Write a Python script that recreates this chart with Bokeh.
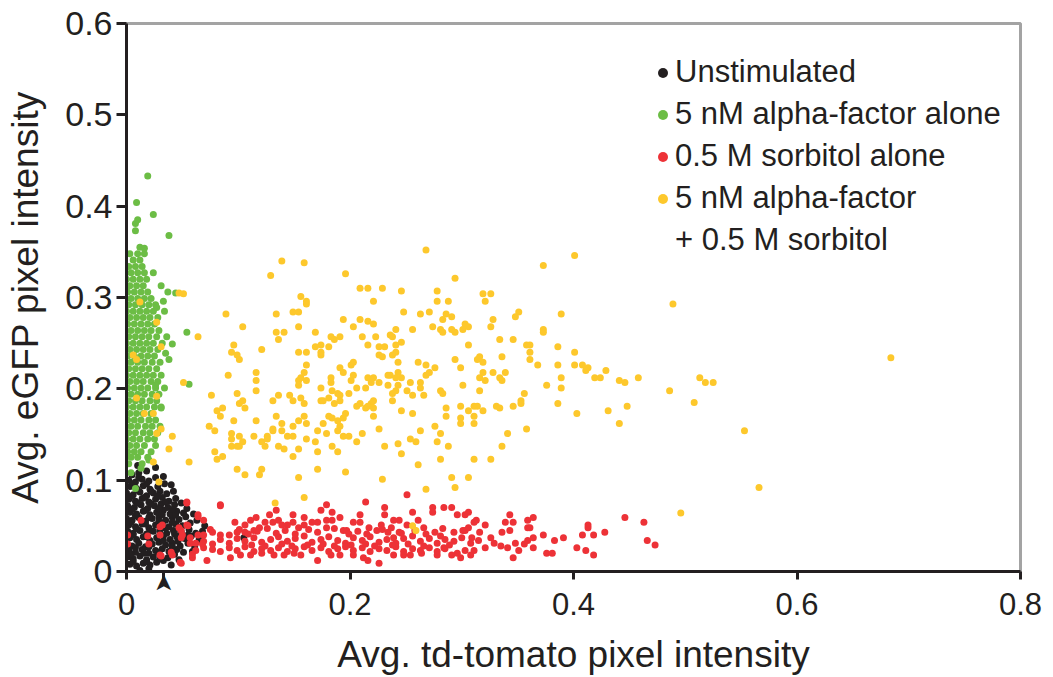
from bokeh.plotting import figure
from bokeh.models import Legend, LegendItem, LinearAxis, FixedTicker
from bokeh.embed import file_html
from bokeh.resources import INLINE
import math

# ---------------- data ----------------
x_ticks = [0, 0.2, 0.4, 0.6, 0.8]
y_ticks = [0, 0.1, 0.2, 0.3, 0.4, 0.5, 0.6]
x_tick_labels = ["0", "0.2", "0.4", "0.6", "0.8"]
y_tick_labels = ["0", "0.1", "0.2", "0.3", "0.4", "0.5", "0.6"]

series_names = ["Unstimulated", "5 nM alpha-factor alone", "0.5 M sorbitol alone",
                "5 nM alpha-factor"]
legend_extra_line = "+ 0.5 M sorbitol"
series_colors = ["#231f20", "#6cbd45", "#ed3237", "#fdc82c"]

arrow_x = 0.033  # arrowhead marker under the x axis

unstim_pts = [
    (0.003,0.008),(0.009,0.006),(0.015,0.009),(0.021,0.007),(0.027,0.010),(0.033,0.012),
    (0.001,0.016),(0.006,0.014),(0.012,0.017),(0.018,0.013),(0.024,0.016),(0.030,0.018),(0.037,0.015),(0.043,0.019),
    (0.002,0.023),(0.008,0.021),(0.014,0.024),(0.020,0.020),(0.026,0.023),(0.032,0.025),(0.038,0.022),(0.045,0.024),(0.051,0.021),
    (0.000,0.030),(0.005,0.028),(0.011,0.031),(0.017,0.027),(0.023,0.030),(0.029,0.032),(0.035,0.029),(0.041,0.031),(0.048,0.028),(0.055,0.031),(0.061,0.027),
    (0.003,0.037),(0.009,0.035),(0.015,0.038),(0.021,0.034),(0.027,0.037),(0.033,0.039),(0.039,0.035),(0.045,0.038),(0.052,0.036),(0.058,0.039),(0.065,0.035),
    (0.001,0.044),(0.006,0.042),(0.012,0.045),(0.018,0.041),(0.024,0.044),(0.030,0.046),(0.036,0.042),(0.042,0.045),(0.049,0.043),(0.056,0.046),(0.062,0.042),
    (0.002,0.051),(0.008,0.049),(0.014,0.052),(0.020,0.048),(0.026,0.051),(0.032,0.053),(0.038,0.049),(0.044,0.052),(0.050,0.050),(0.057,0.053),
    (0.000,0.058),(0.005,0.056),(0.011,0.059),(0.017,0.055),(0.023,0.058),(0.029,0.060),(0.035,0.056),(0.041,0.059),(0.047,0.057),(0.053,0.060),
    (0.003,0.065),(0.009,0.063),(0.015,0.066),(0.021,0.062),(0.027,0.065),(0.033,0.067),(0.039,0.063),(0.045,0.066),(0.051,0.064),
    (0.001,0.072),(0.007,0.070),(0.013,0.073),(0.019,0.069),(0.025,0.072),(0.031,0.074),(0.037,0.070),(0.043,0.073),(0.049,0.075),
    (0.002,0.079),(0.008,0.077),(0.014,0.080),(0.020,0.076),(0.026,0.079),(0.032,0.081),(0.038,0.077),(0.044,0.080),
    (0.000,0.086),(0.006,0.084),(0.012,0.087),(0.018,0.083),(0.024,0.086),(0.030,0.088),(0.036,0.085),
    (0.003,0.093),(0.009,0.091),(0.015,0.094),(0.021,0.090),(0.028,0.093),(0.034,0.096),
    (0.002,0.100),(0.008,0.098),(0.014,0.101),(0.020,0.099),(0.026,0.103),
    (0.005,0.106),(0.011,0.108),(0.018,0.110),
    (0.006,0.011),(0.018,0.011),(0.030,0.014),(0.004,0.019),(0.016,0.020),(0.028,0.021),(0.041,0.027),
    (0.008,0.026),(0.020,0.027),(0.033,0.034),(0.046,0.033),(0.006,0.040),(0.018,0.038),(0.030,0.041),
    (0.043,0.041),(0.055,0.040),(0.009,0.047),(0.021,0.045),(0.034,0.048),(0.047,0.047),(0.004,0.054),
    (0.017,0.052),(0.029,0.055),(0.041,0.054),(0.008,0.061),(0.020,0.059),(0.032,0.062),(0.044,0.062),
    (0.005,0.068),(0.017,0.067),(0.029,0.069),(0.041,0.068),(0.010,0.075),(0.022,0.074),(0.035,0.076),
    (0.004,0.082),(0.016,0.081),(0.028,0.083),(0.010,0.089),(0.022,0.088),(0.006,0.096),(0.018,0.096),
    (0.011,0.103),
    (0.012,0.001),(0.105,0.037),(0.068,0.044),(0.070,0.050),(0.060,0.063),(0.054,0.069),(0.042,0.088),
    (0.026,0.114),(0.010,0.116),(0.033,0.104),(0.040,0.095),(0.063,0.056),(0.059,0.022),(0.047,0.013),
    (0.020,0.003),(0.040,0.007),
]

alpha_pts = [
    (0.002,0.118),(0.014,0.118),
    (0.004,0.125),(0.010,0.125),(0.019,0.125),
    (0.001,0.131),(0.007,0.131),(0.013,0.131),(0.022,0.131),
    (0.003,0.138),(0.009,0.138),(0.016,0.138),(0.026,0.138),
    (0.000,0.145),(0.006,0.145),(0.012,0.145),(0.019,0.145),(0.025,0.145),
    (0.002,0.152),(0.008,0.152),(0.015,0.152),(0.021,0.152),(0.028,0.152),
    (0.004,0.159),(0.010,0.159),(0.017,0.159),(0.023,0.159),(0.030,0.159),
    (0.001,0.166),(0.007,0.166),(0.013,0.166),(0.020,0.166),(0.026,0.166),
    (0.003,0.173),(0.009,0.173),(0.015,0.173),(0.022,0.173),
    (0.000,0.180),(0.006,0.180),(0.012,0.180),(0.018,0.180),(0.025,0.180),(0.031,0.180),
    (0.002,0.187),(0.008,0.187),(0.014,0.187),(0.021,0.187),(0.027,0.187),
    (0.004,0.194),(0.010,0.194),(0.016,0.194),(0.023,0.194),(0.029,0.194),
    (0.001,0.201),(0.007,0.201),(0.013,0.201),(0.019,0.201),(0.026,0.201),(0.034,0.201),
    (0.003,0.208),(0.009,0.208),(0.015,0.208),(0.022,0.208),(0.028,0.208),
    (0.000,0.215),(0.006,0.215),(0.012,0.215),(0.018,0.215),(0.024,0.215),(0.031,0.215),
    (0.002,0.222),(0.008,0.222),(0.014,0.222),(0.020,0.222),(0.027,0.222),
    (0.004,0.229),(0.010,0.229),(0.016,0.229),(0.023,0.229),(0.030,0.229),
    (0.001,0.236),(0.007,0.236),(0.013,0.236),(0.019,0.236),(0.025,0.236),
    (0.003,0.243),(0.009,0.243),(0.015,0.243),(0.021,0.243),(0.028,0.243),
    (0.000,0.250),(0.006,0.250),(0.012,0.250),(0.018,0.250),(0.024,0.250),(0.032,0.250),
    (0.002,0.257),(0.008,0.257),(0.014,0.257),(0.020,0.257),(0.027,0.257),
    (0.004,0.264),(0.010,0.264),(0.016,0.264),(0.022,0.264),(0.029,0.264),
    (0.001,0.271),(0.007,0.271),(0.013,0.271),(0.019,0.271),(0.025,0.271),
    (0.003,0.278),(0.009,0.278),(0.015,0.278),(0.021,0.278),(0.028,0.278),
    (0.000,0.285),(0.006,0.285),(0.012,0.285),(0.018,0.285),(0.024,0.285),(0.034,0.285),
    (0.002,0.292),(0.008,0.292),(0.014,0.292),(0.020,0.292),(0.026,0.292),
    (0.004,0.299),(0.010,0.299),(0.016,0.299),(0.022,0.299),
    (0.001,0.306),(0.007,0.306),(0.013,0.306),(0.019,0.306),(0.037,0.306),
    (0.003,0.313),(0.009,0.313),(0.015,0.313),(0.031,0.313),
    (0.000,0.320),(0.006,0.320),(0.012,0.320),(0.018,0.320),
    (0.004,0.327),(0.010,0.327),(0.016,0.327),(0.024,0.327),
    (0.002,0.334),(0.008,0.334),(0.014,0.334),
    (0.006,0.341),(0.012,0.341),
    (0.003,0.348),(0.010,0.348),(0.016,0.348),
    (0.012,0.355),
    (0.019,0.433),(0.009,0.404),(0.024,0.391),(0.010,0.385),(0.008,0.381),(0.008,0.373),(0.038,0.368),
    (0.016,0.354),(0.044,0.305),(0.054,0.262),(0.036,0.257),(0.041,0.249),(0.035,0.239),(0.038,0.232),
    (0.056,0.205),(0.031,0.179),(0.026,0.204),(0.013,0.113),(0.020,0.122),(0.008,0.091),(0.004,0.108),
    (0.027,0.289),(0.033,0.296),
]

sorbitol_pts = [
    (0.054,0.076),(0.084,0.073),(0.179,0.073),(0.214,0.076),(0.251,0.084),(0.231,0.070),(0.274,0.070),
    (0.284,0.070),(0.291,0.070),(0.134,0.067),(0.174,0.067),(0.184,0.065),(0.064,0.062),(0.069,0.056),
    (0.149,0.062),(0.159,0.059),(0.128,0.062),(0.116,0.059),(0.111,0.056),(0.106,0.051),(0.097,0.054),
    (0.231,0.062),(0.209,0.062),(0.256,0.065),(0.274,0.065),(0.296,0.062),(0.303,0.062),(0.306,0.065),
    (0.343,0.062),(0.364,0.059),(0.359,0.056),(0.446,0.059),(0.463,0.054),(0.413,0.051),(0.428,0.043),
    (0.408,0.040),(0.418,0.040),(0.413,0.048),(0.373,0.040),(0.383,0.034),(0.391,0.037),(0.466,0.034),
    (0.473,0.029),(0.403,0.026),(0.411,0.023),(0.418,0.018),(0.376,0.020),(0.381,0.020),(0.346,0.015),
    (0.351,0.023),(0.359,0.034),(0.364,0.037),(0.359,0.048),(0.361,0.048),(0.339,0.054),(0.346,0.054),
    (0.343,0.045),(0.336,0.043),(0.321,0.051),(0.313,0.056),(0.311,0.054),(0.303,0.045),(0.301,0.045),
    (0.316,0.043),(0.309,0.037),(0.326,0.037),(0.329,0.031),(0.335,0.028),(0.341,0.026),(0.348,0.031),
    (0.356,0.030),(0.364,0.026),(0.321,0.026),(0.311,0.023),(0.303,0.023),(0.296,0.020),(0.291,0.018),
    (0.284,0.026),(0.281,0.039),(0.276,0.043),(0.266,0.048),(0.261,0.056),(0.251,0.051),(0.244,0.056),
    (0.239,0.056),(0.244,0.043),(0.239,0.037),(0.234,0.043),(0.228,0.051),(0.224,0.045),(0.217,0.048),
    (0.209,0.054),(0.203,0.054),(0.197,0.045),(0.194,0.045),(0.191,0.059),(0.184,0.056),(0.179,0.056),
    (0.179,0.048),(0.171,0.054),(0.166,0.054),(0.159,0.051),(0.154,0.048),(0.149,0.054),(0.144,0.051),
    (0.139,0.051),(0.136,0.056),(0.131,0.054),(0.124,0.054),(0.119,0.048),(0.114,0.045),(0.106,0.043),
    (0.099,0.043),(0.092,0.040),(0.084,0.040),(0.077,0.043),(0.069,0.040),(0.064,0.040),(0.057,0.037),
    (0.049,0.045),(0.049,0.037),(0.054,0.051),(0.057,0.031),(0.062,0.031),
    (0.069,0.033),(0.077,0.030),(0.084,0.035),(0.092,0.031),(0.099,0.036),(0.106,0.033),(0.114,0.037),
    (0.121,0.032),(0.129,0.035),(0.136,0.038),(0.144,0.033),(0.151,0.036),(0.159,0.039),(0.166,0.032),
    (0.174,0.035),(0.181,0.038),(0.189,0.034),(0.196,0.031),(0.203,0.037),(0.211,0.034),(0.218,0.038),
    (0.226,0.032),(0.233,0.035),(0.241,0.031),(0.248,0.036),(0.256,0.039),(0.263,0.033),(0.271,0.036),
    (0.278,0.031),(0.285,0.035),(0.293,0.033),(0.300,0.037),(0.308,0.031),(0.315,0.034),
    (0.062,0.023),(0.069,0.026),(0.077,0.024),(0.084,0.022),(0.092,0.026),(0.099,0.023),(0.106,0.027),
    (0.114,0.022),(0.121,0.025),(0.129,0.023),(0.136,0.026),(0.144,0.022),(0.151,0.025),(0.159,0.027),
    (0.166,0.023),(0.174,0.026),(0.181,0.022),(0.189,0.025),(0.196,0.027),(0.203,0.023),(0.211,0.026),
    (0.218,0.022),(0.226,0.025),(0.233,0.023),(0.241,0.027),(0.248,0.022),(0.256,0.025),(0.263,0.023),
    (0.271,0.026),(0.278,0.022),(0.285,0.025),
    (0.101,0.046),(0.109,0.041),(0.117,0.044),(0.126,0.047),(0.134,0.042),(0.142,0.045),(0.151,0.041),
    (0.163,0.046),(0.171,0.043),(0.186,0.047),(0.199,0.041),(0.207,0.044),(0.215,0.041),(0.229,0.046),
    (0.237,0.048),(0.246,0.042),(0.258,0.045),(0.268,0.041),(0.283,0.047),(0.293,0.043),(0.306,0.048),
    (0.112,0.029),(0.124,0.028),(0.139,0.030),(0.148,0.028),(0.162,0.029),(0.176,0.030),(0.186,0.028),
    (0.201,0.029),(0.214,0.030),(0.222,0.028),(0.238,0.029),(0.252,0.030),(0.266,0.028),(0.289,0.029),
    (0.030,0.018),(0.041,0.018),(0.049,0.009),(0.059,0.015),(0.072,0.012),(0.093,0.015),(0.102,0.018),
    (0.111,0.018),(0.121,0.020),(0.132,0.018),(0.141,0.018),(0.150,0.020),(0.156,0.018),(0.171,0.012),
    (0.183,0.018),(0.191,0.018),(0.203,0.018),(0.212,0.015),(0.216,0.012),(0.226,0.009),(0.239,0.018),
    (0.248,0.018),(0.254,0.018),(0.264,0.020),(0.278,0.018),(0.299,0.015),(0.308,0.018),
    (0.013,0.056),(0.001,0.040),(0.001,0.030),(0.019,0.039),(0.020,0.030),(0.030,0.049),(0.030,0.040),
    (0.032,0.051),(0.047,0.048),(0.055,0.050),(0.050,0.040),(0.064,0.060),(0.054,0.075),(0.031,0.017),
    (0.040,0.021),(0.048,0.010),(0.059,0.019),(0.084,0.072),(0.075,0.046),(0.068,0.030),
]

combo_pts = [
    (0.268,0.352),(0.401,0.346),(0.139,0.340),(0.159,0.338),(0.373,0.335),(0.129,0.324),(0.196,0.326),(0.294,0.321),
    (0.209,0.310),(0.216,0.310),(0.229,0.310),(0.246,0.307),(0.278,0.307),(0.319,0.304),(0.326,0.304),(0.051,0.304),
    (0.156,0.301),(0.161,0.296),(0.161,0.293),(0.221,0.296),(0.278,0.296),(0.288,0.296),(0.321,0.296),
    (0.089,0.282),(0.134,0.282),(0.149,0.284),(0.154,0.284),(0.248,0.284),(0.263,0.282),(0.271,0.284),(0.286,0.282),
    (0.291,0.279),(0.351,0.284),(0.348,0.279),(0.389,0.282),
    (0.194,0.276),(0.209,0.276),(0.216,0.274),(0.221,0.271),(0.283,0.276),(0.328,0.276),(0.303,0.271),
    (0.104,0.268),(0.154,0.268),(0.203,0.268),(0.241,0.265),(0.256,0.265),(0.274,0.268),(0.281,0.265),(0.283,0.262),
    (0.291,0.265),(0.294,0.262),(0.301,0.265),(0.306,0.268),(0.326,0.268),(0.373,0.265),(0.373,0.262),(0.134,0.262),
    (0.141,0.262),(0.169,0.262),
    (0.064,0.257),(0.136,0.254),(0.183,0.257),(0.186,0.254),(0.191,0.257),(0.211,0.257),(0.223,0.257),(0.236,0.259),
    (0.238,0.257),(0.246,0.251),(0.334,0.254),(0.346,0.254),
    (0.096,0.248),(0.094,0.240),(0.099,0.237),(0.101,0.232),(0.121,0.243),(0.154,0.240),(0.161,0.240),(0.169,0.246),
    (0.174,0.248),(0.174,0.240),(0.174,0.237),(0.181,0.246),(0.216,0.248),(0.226,0.246),(0.231,0.246),(0.241,0.248),
    (0.238,0.237),(0.226,0.237),(0.229,0.235),(0.241,0.240),(0.306,0.248),(0.358,0.248),(0.361,0.248),(0.361,0.240),
    (0.386,0.246),(0.401,0.240),(0.294,0.232),(0.314,0.232),(0.316,0.235),(0.319,0.229),(0.336,0.235),(0.361,0.232),
    (0.161,0.226),(0.191,0.223),(0.194,0.218),(0.201,0.226),(0.203,0.229),(0.243,0.229),(0.261,0.229),(0.268,0.226),
    (0.276,0.223),(0.299,0.223),(0.368,0.226),(0.386,0.226),(0.401,0.226),(0.408,0.226),(0.413,0.223),(0.411,0.220),
    (0.429,0.220),
    (0.091,0.215),(0.116,0.218),(0.116,0.209),(0.159,0.218),(0.154,0.209),(0.156,0.212),(0.161,0.209),(0.183,0.212),
    (0.183,0.207),(0.203,0.215),(0.216,0.212),(0.221,0.212),(0.234,0.215),(0.236,0.215),(0.243,0.218),(0.246,0.212),
    (0.241,0.212),(0.268,0.215),(0.271,0.218),(0.316,0.212),(0.319,0.218),(0.321,0.209),(0.328,0.218),(0.334,0.212),
    (0.336,0.209),(0.339,0.218),(0.389,0.212),(0.419,0.212),(0.424,0.212),(0.441,0.209),(0.446,0.207),
    (0.051,0.207),(0.076,0.193),(0.116,0.198),(0.154,0.204),(0.174,0.201),(0.184,0.198),(0.201,0.209),(0.206,0.201),
    (0.214,0.201),(0.219,0.207),(0.226,0.207),(0.234,0.204),(0.238,0.195),(0.241,0.198),(0.243,0.204),(0.254,0.207),
    (0.251,0.198),(0.263,0.207),(0.263,0.201),(0.281,0.198),(0.283,0.195),(0.301,0.204),(0.316,0.198),(0.376,0.204),
    (0.389,0.201),
    (0.099,0.195),(0.136,0.193),(0.146,0.193),(0.156,0.190),(0.189,0.195),(0.191,0.193),(0.199,0.195),(0.256,0.193),
    (0.266,0.193),(0.356,0.195),(0.353,0.187),(0.353,0.184),(0.386,0.184),
    (0.101,0.184),(0.104,0.187),(0.106,0.179),(0.131,0.187),(0.149,0.187),(0.159,0.184),(0.174,0.187),(0.176,0.187),
    (0.181,0.190),(0.186,0.184),(0.191,0.187),(0.206,0.181),(0.209,0.184),(0.219,0.184),(0.221,0.187),(0.221,0.179),
    (0.214,0.179),(0.216,0.181),(0.238,0.187),(0.299,0.181),(0.311,0.181),(0.314,0.181),(0.331,0.181),(0.334,0.179),
    (0.346,0.181),(0.448,0.181),
    (0.081,0.176),(0.086,0.179),(0.084,0.170),(0.134,0.170),(0.159,0.170),(0.196,0.173),(0.194,0.168),(0.181,0.170),
    (0.184,0.168),(0.221,0.170),(0.246,0.176),(0.256,0.173),(0.286,0.179),(0.286,0.170),(0.306,0.176),(0.311,0.170),
    (0.319,0.176),(0.403,0.173),(0.431,0.176),
    (0.096,0.165),(0.116,0.165),(0.139,0.162),(0.154,0.165),(0.161,0.162),(0.176,0.162),(0.189,0.165),(0.191,0.159),
    (0.149,0.159),(0.299,0.168),(0.299,0.162),(0.311,0.162),(0.441,0.162),(0.074,0.159),(0.079,0.154),
    (0.131,0.156),(0.131,0.154),(0.139,0.154),(0.171,0.154),(0.179,0.151),(0.189,0.154),(0.226,0.156),(0.263,0.154),
    (0.276,0.159),(0.281,0.151),(0.341,0.151),(0.358,0.156),
    (0.094,0.151),(0.094,0.145),(0.101,0.148),(0.104,0.142),(0.114,0.148),(0.121,0.142),(0.124,0.137),(0.126,0.148),
    (0.126,0.145),(0.144,0.148),(0.149,0.148),(0.161,0.145),(0.169,0.142),(0.194,0.148),(0.199,0.148),(0.206,0.142),
    (0.211,0.151),(0.243,0.140),(0.254,0.145),(0.259,0.142),(0.278,0.142),
    (0.094,0.137),(0.099,0.137),(0.101,0.137),(0.136,0.137),(0.141,0.134),(0.154,0.134),(0.171,0.131),(0.184,0.137),
    (0.189,0.131),(0.231,0.137),(0.288,0.137),(0.336,0.137),
    (0.079,0.131),(0.081,0.123),(0.086,0.126),(0.149,0.126),(0.246,0.129),(0.281,0.123),(0.311,0.123),(0.326,0.123),
    (0.056,0.120),(0.261,0.117),
    (0.099,0.112),(0.106,0.106),(0.119,0.106),(0.121,0.112),(0.171,0.112),(0.196,0.109),(0.154,0.103),(0.229,0.101),
    (0.268,0.090),(0.291,0.103),(0.306,0.103),(0.294,0.092),(0.159,0.081),
    (0.458,0.212),(0.486,0.198),(0.513,0.212),(0.518,0.207),(0.525,0.207),(0.508,0.185),(0.553,0.154),(0.566,0.092),
    (0.496,0.064),(0.489,0.293),(0.684,0.234),
    (0.012,0.295),(0.027,0.273),(0.006,0.237),(0.009,0.232),(0.031,0.246),(0.009,0.190),(0.027,0.192),(0.016,0.173),
    (0.024,0.173),(0.031,0.156),(0.027,0.151),(0.041,0.148),(0.038,0.134),(0.024,0.120),(0.029,0.098),(0.047,0.305),
    (0.133,0.075),(0.256,0.050),(0.259,0.045),
]

groups = [unstim_pts, alpha_pts, sorbitol_pts, combo_pts]

# ---------------- figure ----------------
FONT = "Liberation Sans"
DARK = "#231f20"

p = figure(width=1045, height=677, x_range=(0, 0.8), y_range=(0, 0.6),
           x_axis_location=None,
           output_backend="svg", toolbar_location=None,
           min_border_left=126, min_border_right=25, min_border_top=23, min_border_bottom=105)
p.background_fill_color = "white"
p.border_fill_color = "white"
p.outline_line_color = "#a3a3a3"
p.outline_line_width = 3
p.xgrid.visible = False
p.ygrid.visible = False

for pts, col in zip(groups, series_colors):
    xs = [a for a, b in pts]
    ys = [b for a, b in pts]
    p.scatter(xs, ys, size=7, color=col, line_color=None, marker="circle")

# ---- y axis
yax = p.yaxis[0]
yax.ticker = FixedTicker(ticks=y_ticks)
yax.major_label_overrides = {t: l for t, l in zip(y_ticks, y_tick_labels)}
yax.axis_line_color = DARK
yax.axis_line_width = 3
yax.major_tick_line_color = DARK
yax.major_tick_line_width = 3
yax.major_tick_in = 0
yax.major_tick_out = 10
yax.minor_tick_line_color = None
yax.major_label_text_font = FONT
yax.major_label_text_color = DARK
yax.major_label_text_font_size = "34px"
yax.major_label_standoff = 4
yax.axis_label = "Avg. eGFP pixel intensity"
yax.axis_label_text_font = FONT
yax.axis_label_text_font_style = "normal"
yax.axis_label_text_color = DARK
yax.axis_label_text_font_size = "37px"
yax.axis_label_standoff = 16

# ---- x axis, part 1 (nearest the frame): axis line, ticks and the arrowhead mark
overrides_arrow = {t: "" for t in x_ticks}
overrides_arrow[arrow_x] = "\u27a4"
xax_line = LinearAxis(ticker=FixedTicker(ticks=x_ticks + [arrow_x]),
                      major_label_overrides=overrides_arrow,
                      major_label_orientation=math.pi / 2,
                      major_label_text_font="DejaVu Sans",
                      major_label_text_font_size="23px",
                      major_label_text_color=DARK,
                      major_label_standoff=-6,
                      axis_line_color=DARK, axis_line_width=3,
                      major_tick_line_color=DARK, major_tick_line_width=3,
                      major_tick_in=0, major_tick_out=8,
                      minor_tick_line_color=None)
p.add_layout(xax_line, "below")

# ---- x axis, part 2: tick labels and title
xax_lab = LinearAxis(ticker=FixedTicker(ticks=x_ticks),
                     major_label_overrides={t: l for t, l in zip(x_ticks, x_tick_labels)},
                     major_label_text_font=FONT, major_label_text_font_size="31px",
                     major_label_text_color=DARK, major_label_standoff=-3,
                     axis_line_color=None, major_tick_line_color=None,
                     major_tick_in=0, major_tick_out=0, minor_tick_line_color=None,
                     axis_label="Avg. td-tomato pixel intensity",
                     axis_label_text_font=FONT, axis_label_text_font_style="normal",
                     axis_label_text_color=DARK, axis_label_text_font_size="37px",
                     axis_label_standoff=16)
p.add_layout(xax_lab, "below")

# ---- legend (proxy renderers with NaN positions: they draw nothing in the plot)
items = []
for name, col in zip(series_names, series_colors):
    r = p.scatter(x=[float("nan")], y=[float("nan")], size=10, color=col,
                  line_color=None, marker="circle")
    items.append(LegendItem(label=name, renderers=[r]))
r_blank = p.scatter(x=[float("nan")], y=[float("nan")], size=10, fill_alpha=0,
                    line_alpha=0, marker="circle")
items.append(LegendItem(label=legend_extra_line, renderers=[r_blank]))
legend = Legend(items=items, location=(524, 313), border_line_color=None,
                background_fill_alpha=0, padding=0, spacing=6,
                glyph_width=25, glyph_height=25, label_standoff=0,
                label_text_font=FONT, label_text_font_size="31px",
                label_text_color=DARK, label_height=36)
p.add_layout(legend)

open("out.html", "w").write(file_html(p, INLINE))
